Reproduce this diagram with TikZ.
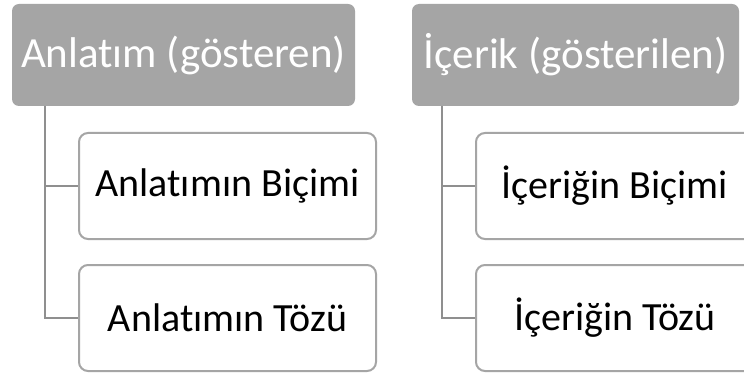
\documentclass[tikz,border=0pt]{standalone}
\usepackage{fontspec}
\setmainfont[Ligatures={NoCommon}]{Carlito}
\usetikzlibrary{calc}
\definecolor{headfill}{HTML}{A5A5A5}
\definecolor{boxline}{HTML}{A5A5A5}
\definecolor{linkline}{HTML}{8F8F8F}
\tikzset{
  header/.style={rectangle, rounded corners=7pt, fill=headfill, text=white,
    font=\fontsize{43}{50}\selectfont, minimum height=102pt, inner sep=0pt},
  child/.style={rectangle, rounded corners=9pt, draw=boxline, line width=2pt, fill=white,
    text=black, font=\fontsize{40}{48}\selectfont, minimum height=106pt, inner sep=0pt},
  link/.style={draw=linkline, line width=2pt}
}
\begin{document}
\begin{tikzpicture}[x=1pt, y=-1pt]
  \useasboundingbox (0,0) rectangle (744,374);
  \clip (0,0) rectangle (744,374);
  \fill[white] (0,0) rectangle (744,374);

  % Expression side
  \node[header, minimum width=343pt] (h1) at (183.5,55) {Anlatım (gösteren)};
  \node[child, minimum width=297pt] (c11) at (227.5,186) {Anlatımın Biçimi};
  \node[child, minimum width=297pt] (c12) at (227.5,318) {Anlatımın Tözü};
  \coordinate (t1) at ($(h1.south west)+(33pt,0)$);
  \draw[link] (t1) |- (c11.west);
  \draw[link] (t1) |- (c12.west);

  % Content side
  \node[header, minimum width=327pt] (h2) at (575.5,55) {İçerik (gösterilen)};
  \node[child, minimum width=278pt] (c21) at (615,186) {İçeriğin Biçimi};
  \node[child, minimum width=278pt] (c22) at (615,318) {İçeriğin Tözü};
  \coordinate (t2) at ($(h2.south west)+(30pt,0)$);
  \draw[link] (t2) |- (c21.west);
  \draw[link] (t2) |- (c22.west);
\end{tikzpicture}
\end{document}
